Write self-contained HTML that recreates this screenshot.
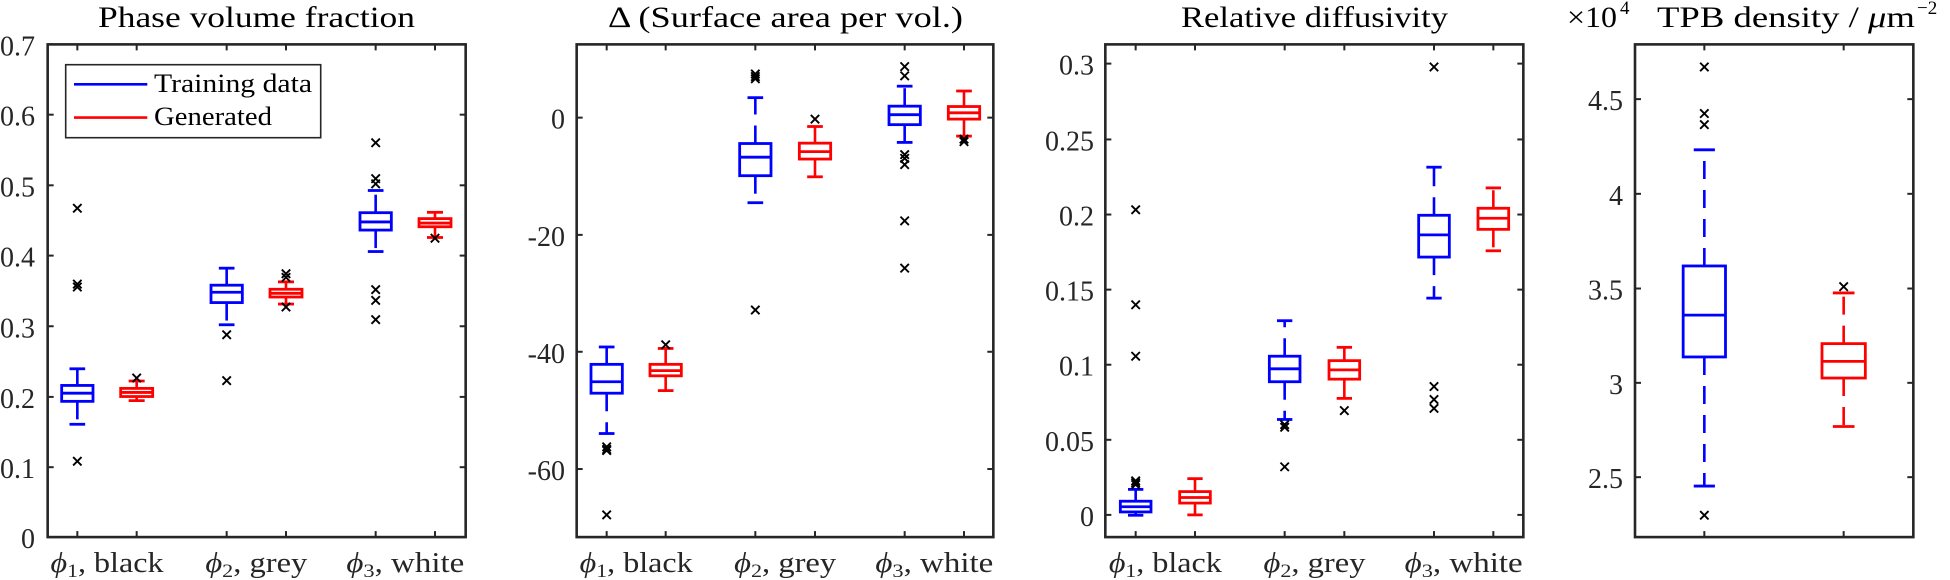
<!DOCTYPE html>
<html><head><meta charset="utf-8"><style>
html,body{margin:0;padding:0;background:#fff;}
svg{display:block;font-family:"Liberation Serif",serif;}
</style></head><body>
<svg id="s" width="1950" height="580" xmlns="http://www.w3.org/2000/svg">
<g font-size="30" fill="#000">
<text x="98" y="27" textLength="317" lengthAdjust="spacingAndGlyphs">Phase volume fraction</text>
<text x="608" y="27" textLength="355" lengthAdjust="spacingAndGlyphs">Δ (Surface area per vol.)</text>
<text x="1181" y="27" textLength="267" lengthAdjust="spacingAndGlyphs">Relative diffusivity</text>
<text x="1567" y="27" textLength="50" lengthAdjust="spacingAndGlyphs">×10</text>
<text x="1620" y="14" font-size="19">4</text>
<text x="1657" y="27" textLength="258" lengthAdjust="spacingAndGlyphs">TPB density / <tspan font-style="italic">μ</tspan>m</text>
<text x="1917" y="14" font-size="19">−2</text>
</g>
</svg>
<script>
var S=document.getElementById('s'),NS='http://www.w3.org/2000/svg';
function el(t,a,txt){var e=document.createElementNS(NS,t);for(var k in a)e.setAttribute(k,a[k]);if(txt!=null)e.textContent=txt;S.appendChild(e);return e;}
var YS=580/1568;
function Y(z){return z*YS;}
var P=[
{off:0,ax:[143,1397],ay:[120,1452],xt:[232,410,680,858,1127,1305],lx:35,
 yt:[[1452,'0'],[1263,'0.1'],[1073,'0.2'],[882,'0.3'],[691,'0.4'],[501,'0.5'],[310,'0.6'],[120,'0.7']],
 b:[['b',232,47,997,1042,1063,1085,1147,[563,768,776,1247]],
    ['r',410,48,1030,1050,1061,1072,1083,[1022]],
    ['b',680,47,725,771,790,818,878,[905,1029]],
    ['r',858,48,762,782,793,803,822,[740,750,830]],
    ['b',1127,47,515,575,600,622,680,[386,483,497,783,812,864]],
    ['r',1305,48,574,591,603,613,642,[644]]]},
{off:480,ax:[290,1540],ay:[120,1452],xt:[380,557,826,1005,1274,1452],lx:565,
 yt:[[318,'0'],[635,'-20'],[951,'-40'],[1268,'-60']],
 b:[['b',380,47,938,985,1032,1063,1172,[1208,1215,1218,1392]],
    ['r',557,47,942,985,1002,1016,1056,[932]],
    ['b',826,47,264,388,425,475,548,[200,207,213,838]],
    ['r',1005,47,342,387,410,430,478,[322]],
    ['b',1274,47,233,287,310,337,385,[180,205,418,428,445,597,725]],
    ['r',1452,47,246,288,305,322,368,[376,383]]]},
{off:1000,ax:[316,1570],ay:[120,1452],xt:[407,585,854,1033,1302,1480],lx:1094,
 yt:[[1392,'0'],[1189,'0.05'],[986,'0.1'],[783,'0.15'],[580,'0.2'],[377,'0.25'],[172,'0.3']],
 b:[['b',407,46,1323,1355,1370,1384,1393,[1300,1305,1310,567,824,963]],
    ['r',585,46,1294,1329,1345,1360,1392,[]],
    ['b',854,46,867,963,997,1032,1134,[1148,1155,1262]],
    ['r',1033,46,939,975,1000,1025,1077,[1110]],
    ['b',1302,46,452,582,635,695,806,[181,1045,1080,1104]],
    ['r',1480,46,508,563,590,620,678,[]]]},
{off:1500,ax:[405,1240],ay:[120,1452],xt:[613,1031],lx:1623,
 yt:[[1290,'2.5'],[1035,'3'],[780,'3.5'],[524,'4'],[268,'4.5']],
 b:[['b',613,63.5,405,719,852,965,1314,[181,307,337,1393]],
    ['r',1031,65,792,929,977,1022,1153,[775]]]}
];
var C={b:'#0000ff',r:'#ff0000'};
P.forEach(function(p,pi){
 var X=function(z){return z/3+p.off;};
 var L=X(p.ax[0]),R=X(p.ax[1]),T=Y(p.ay[0]),B=Y(p.ay[1]);
 p.b.forEach(function(b){
  var c=C[b[0]],x=X(b[1]),h=b[2]/3,ct=Y(b[3]),bt=Y(b[4]),md=Y(b[5]),bb=Y(b[6]),cb=Y(b[7]);
  el('line',{x1:x,y1:bt,x2:x,y2:ct,stroke:c,'stroke-width':2.6,'stroke-dasharray':'18,11'});
  el('line',{x1:x,y1:bb,x2:x,y2:cb,stroke:c,'stroke-width':2.6,'stroke-dasharray':'18,11'});
  el('line',{x1:x-h/2,y1:ct,x2:x+h/2,y2:ct,stroke:c,'stroke-width':2.8});
  el('line',{x1:x-h/2,y1:cb,x2:x+h/2,y2:cb,stroke:c,'stroke-width':2.8});
  el('rect',{x:x-h,y:bt,width:2*h,height:bb-bt,fill:'none',stroke:c,'stroke-width':2.8});
  el('line',{x1:x-h,y1:md,x2:x+h,y2:md,stroke:c,'stroke-width':2.8});
  b[8].forEach(function(o){var y=Y(o),s=4.2;
   el('path',{d:'M'+(x-s)+' '+(y-s)+'L'+(x+s)+' '+(y+s)+'M'+(x-s)+' '+(y+s)+'L'+(x+s)+' '+(y-s),stroke:'#000','stroke-width':1.9,fill:'none'});});
 });
 var ax='#262626',tl=6;
 p.yt.forEach(function(t){var y=Y(t[0]);
  el('line',{x1:L,y1:y,x2:L+tl,y2:y,stroke:ax,'stroke-width':2});
  el('line',{x1:R,y1:y,x2:R-tl,y2:y,stroke:ax,'stroke-width':2});
  el('text',{x:p.lx,y:y+11,'font-size':28,'text-anchor':'end',fill:'#262626'},t[1]);});
 p.xt.forEach(function(z){var x=X(z);
  el('line',{x1:x,y1:T,x2:x,y2:T+tl,stroke:ax,'stroke-width':2});
  el('line',{x1:x,y1:B,x2:x,y2:B-tl,stroke:ax,'stroke-width':2});});
 el('rect',{x:L,y:T,width:R-L,height:B-T,fill:'none',stroke:ax,'stroke-width':2.6});
 if(pi<3){
  var names=['black','grey','white'],tw=[113,102,118];
  for(var i=0;i<3;i++){
   var cx=(X(p.xt[2*i])+X(p.xt[2*i+1]))/2;
   var t=el('text',{x:cx-tw[i]/2,y:572,'font-size':28,fill:'#262626',textLength:tw[i],lengthAdjust:'spacingAndGlyphs'});
   var a=document.createElementNS(NS,'tspan');a.setAttribute('font-style','italic');a.textContent='ϕ';t.appendChild(a);
   var s=document.createElementNS(NS,'tspan');s.setAttribute('font-size','19');s.setAttribute('dy','5');s.textContent=String(i+1);t.appendChild(s);
   var r=document.createElementNS(NS,'tspan');r.setAttribute('dy','-5');r.textContent=', '+names[i];t.appendChild(r);
  }
 }
});
// legend
el('rect',{x:65.7,y:64.7,width:255,height:73,fill:'#fff',stroke:'#262626','stroke-width':1.6});
el('line',{x1:74,y1:84.3,x2:147.3,y2:84.3,stroke:'#0000ff','stroke-width':2.6});
el('line',{x1:74,y1:117.6,x2:147.3,y2:117.6,stroke:'#ff0000','stroke-width':2.6});
el('text',{x:154,y:92,'font-size':26,textLength:158,lengthAdjust:'spacingAndGlyphs'},'Training data');
el('text',{x:154,y:125,'font-size':26,textLength:118,lengthAdjust:'spacingAndGlyphs'},'Generated');
</script>
</body></html>
